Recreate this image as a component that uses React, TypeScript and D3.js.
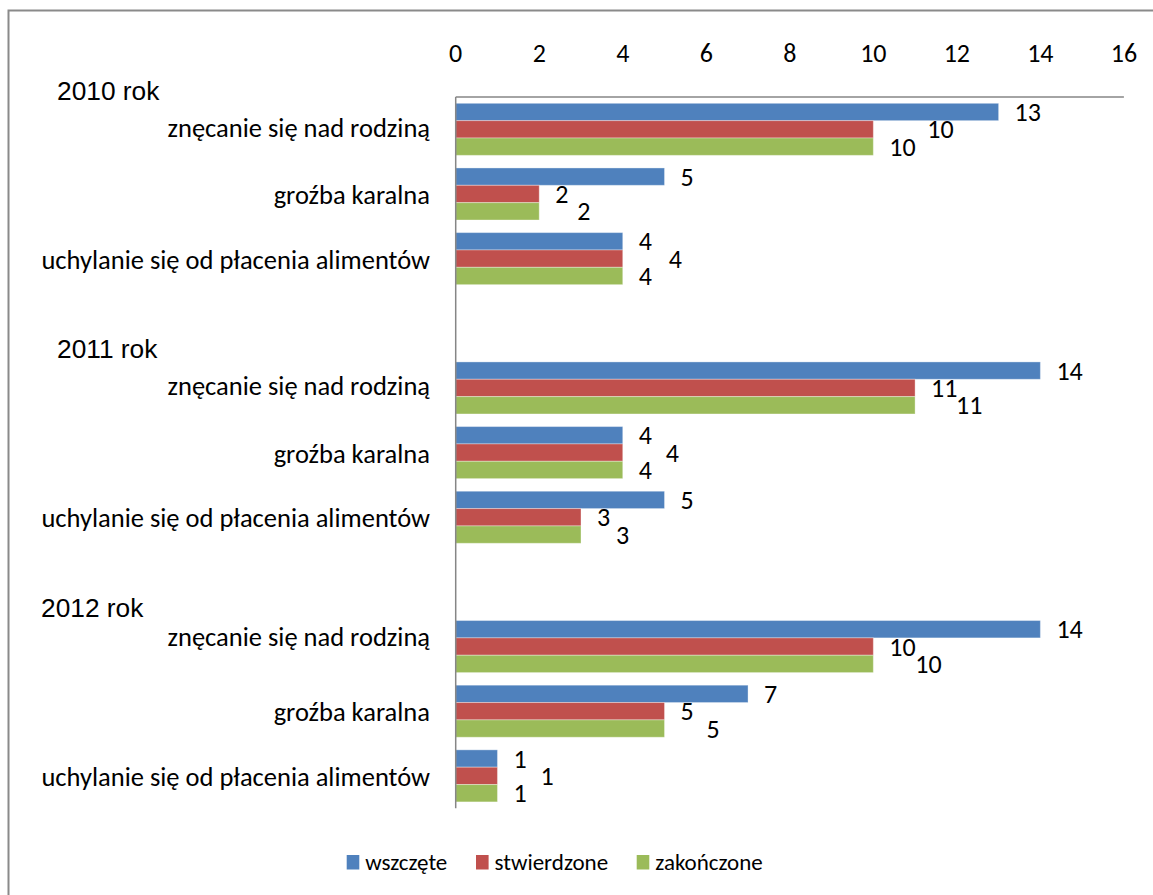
import React, { useEffect, useRef } from 'react';
import * as d3 from 'd3';

const years = ['2010 rok', '2011 rok', '2012 rok'];
const categories = [
  'znęcanie się nad rodziną',
  'groźba karalna',
  'uchylanie się od płacenia alimentów',
];
const seriesNames = ['wszczęte', 'stwierdzone', 'zakończone'];
const wszczete = [13, 5, 4, 14, 4, 5, 14, 7, 1];
const stwierdzone = [10, 2, 4, 11, 4, 3, 10, 5, 1];
const zakonczone = [10, 2, 4, 11, 4, 3, 10, 5, 1];
const xTicks = [0, 2, 4, 6, 8, 10, 12, 14, 16];

const colors = ['#4F81BD', '#C0504D', '#9BBB59'];
// which label of each category is pushed aside (collision avoidance in the original)
const shiftedSeries = [1, 2, 1, 2, 1, 2, 2, 2, 1];
const shiftPx = [38, 22, 30, 25, 27, 19, 26, 26, 27];
const yearLabelX = [57, 57, 41];

const W = 1153;
const H = 895;
const CAL = 'Carlito, Calibri, Lato, sans-serif';
const ARIAL = '"Liberation Sans", Arial, sans-serif';

export default function App() {
  const svgRef = useRef<SVGSVGElement>(null);

  useEffect(() => {
    if (!svgRef.current) return;
    const svg = d3.select(svgRef.current);
    svg.selectAll('*').remove();

    const series = [wszczete, stwierdzone, zakonczone];

    // slots: 3 categories per year, an empty slot between years
    const slots: string[] = [];
    years.forEach((y, yi) => {
      categories.forEach((c) => slots.push(`${y}|${c}`));
      if (yi < years.length - 1) slots.push(`gap${yi}`);
    });
    const slotOf = (i: number) => `${years[Math.floor(i / 3)]}|${categories[i % 3]}`;

    const x = d3.scaleLinear().domain([0, 16]).range([455.7, 1123.9]);
    const y = d3.scaleBand<string>()
      .domain(slots)
      .range([97, 808.2])
      .paddingInner(0.195)
      .paddingOuter(0.0975);
    const sub = d3.scaleBand<number>().domain([0, 1, 2]).range([0, y.bandwidth()]);

    // outer border
    svg.append('rect')
      .attr('x', 8.5).attr('y', 10.5)
      .attr('width', 1160).attr('height', 900)
      .attr('fill', 'none').attr('stroke', '#8a8a8a').attr('stroke-width', 2);

    // bars
    series.forEach((vals, si) => {
      svg.append('g')
        .selectAll('rect')
        .data(vals)
        .join('rect')
        .attr('x', x(0))
        .attr('y', (_, i) => (y(slotOf(i)) ?? 0) + (sub(si) ?? 0))
        .attr('width', (d) => x(d) - x(0))
        .attr('height', sub.bandwidth())
        .attr('fill', colors[si])
        .attr('stroke', '#ffffff')
        .attr('stroke-opacity', 0.35)
        .attr('stroke-width', 1);
    });

    // value labels
    series.forEach((vals, si) => {
      svg.append('g')
        .selectAll('text')
        .data(vals)
        .join('text')
        .attr('x', (d, i) => x(d) + 16 + (shiftedSeries[i] === si ? shiftPx[i] : 0))
        .attr('y', (_, i) => (y(slotOf(i)) ?? 0) + (sub(si) ?? 0) + sub.bandwidth() / 2 + 9)
        .attr('font-family', CAL)
        .attr('font-size', 26)
        .attr('fill', '#000')
        .text((d) => String(d));
    });

    // axes lines
    svg.append('line')
      .attr('x1', x(0)).attr('x2', x(16))
      .attr('y1', 97).attr('y2', 97)
      .attr('stroke', '#868686').attr('stroke-width', 1.5);
    svg.append('line')
      .attr('x1', x(0)).attr('x2', x(0))
      .attr('y1', 97).attr('y2', 808.2)
      .attr('stroke', '#868686').attr('stroke-width', 1.5);

    // top tick labels
    svg.append('g')
      .selectAll('text')
      .data(xTicks)
      .join('text')
      .attr('x', (d) => x(d))
      .attr('y', 62)
      .attr('text-anchor', 'middle')
      .attr('font-family', CAL)
      .attr('font-size', 26)
      .text((d) => String(d));

    // category labels
    svg.append('g')
      .selectAll('text')
      .data(d3.range(9))
      .join('text')
      .attr('x', 430)
      .attr('y', (i) => {
        const c = (y(slotOf(i)) ?? 0) + y.bandwidth() / 2;
        if (i === 6) return c - 1;
        return c + (i % 3 === 0 ? 7.5 : 10);
      })
      .attr('text-anchor', 'end')
      .attr('font-family', CAL)
      .attr('font-size', 26.5)
      .text((i) => categories[i % 3]);

    // year labels
    svg.append('g')
      .selectAll('text')
      .data(years)
      .join('text')
      .attr('x', (_, i) => yearLabelX[i])
      .attr('y', (d) => (y(`${d}|${categories[0]}`) ?? 0) - 3.5)
      .attr('font-family', ARIAL)
      .attr('font-size', 26.3)
      .text((d) => d);

    // legend
    const legendX = [346.7, 476, 636.7];
    const lg = svg.append('g');
    seriesNames.forEach((name, i) => {
      lg.append('rect')
        .attr('x', legendX[i]).attr('y', 855)
        .attr('width', 12.6).attr('height', 14.5)
        .attr('fill', colors[i]);
      lg.append('text')
        .attr('x', legendX[i] + 18.5)
        .attr('y', 870)
        .attr('font-family', CAL)
        .attr('font-size', 23)
        .text(name);
    });
  }, []);

  return (
    <div style={{ position: 'absolute', left: 0, top: 0, width: W, height: H, overflow: 'hidden' }}>
      <svg ref={svgRef} width={W} height={H} style={{ display: 'block', background: '#fff' }} />
    </div>
  );
}
